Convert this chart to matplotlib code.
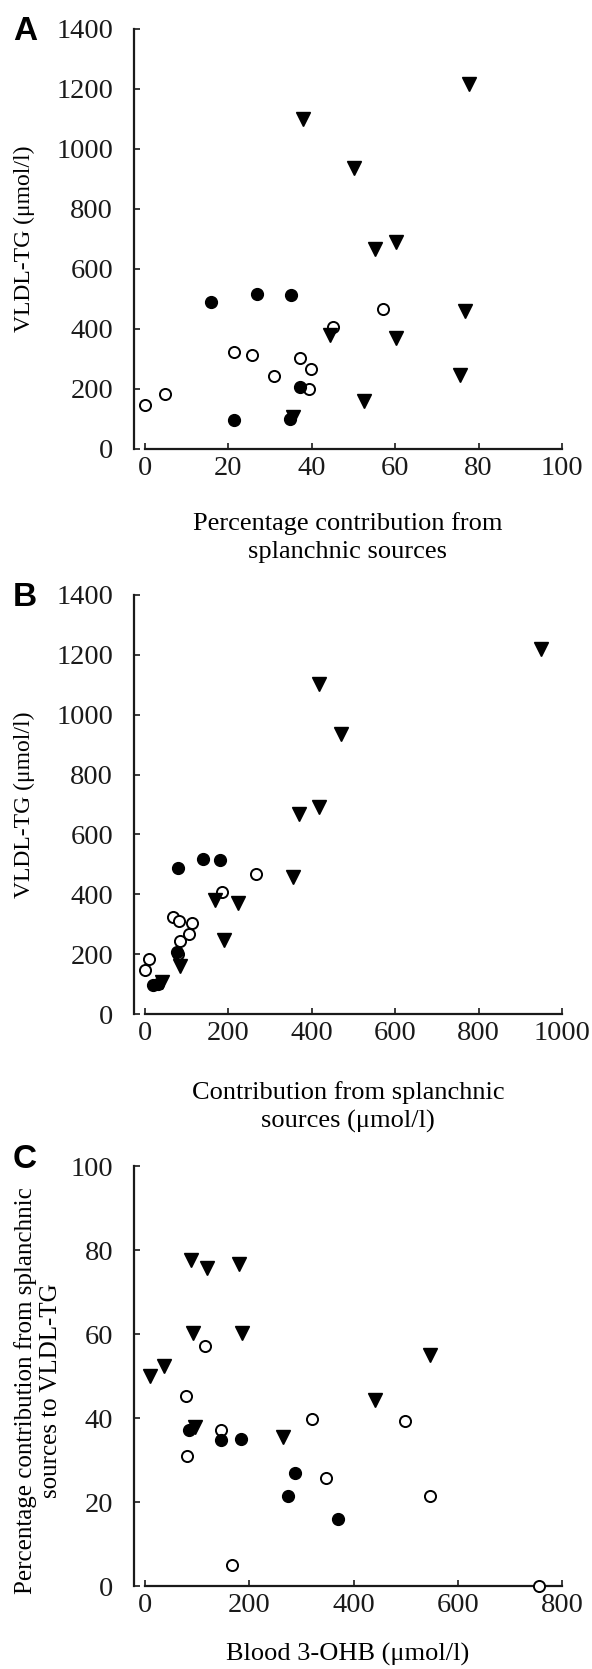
import matplotlib
matplotlib.use("Agg")
import matplotlib.pyplot as plt

# triangles (11 subjects)
tri_pct = [77.7, 37.9, 50.1, 55.1, 60.2, 76.7, 44.3, 60.2, 75.6, 52.4, 35.4]
tri_vldl = [1218, 1101, 936, 668, 690, 459, 381, 370, 248, 159, 107]
tri_contrib = [949, 417, 470, 370, 417, 354, 169, 224, 190, 84, 41]
tri_ohb = [88, 96, 9, 546, 93, 181, 441, 187, 118, 37, 265]

# filled circles (6 subjects)
fill_pct = [15.9, 26.9, 34.9, 37.2, 21.4, 34.7]
fill_vldl = [489, 517, 513, 208, 97, 100]
fill_contrib = [79, 139, 181, 76, 20, 32]
fill_ohb = [371, 288, 184, 85, 274, 145]

# open circles (10 subjects)
open_pct = [0, 4.9, 21.4, 25.6, 30.9, 37.2, 39.7, 39.3, 45.2, 57.1]
open_vldl = [147, 184, 323, 312, 244, 304, 266, 199, 408, 468]
open_contrib = [0, 10, 68, 81, 85, 112, 105, 79, 184, 267]
open_ohb = [755, 167, 546, 347, 81, 145, 320, 498, 79, 115]

yticks_tg = [0, 200, 400, 600, 800, 1000, 1200, 1400]
yticks_pct = [0, 20, 40, 60, 80, 100]

plt.rcParams['font.family'] = ['Liberation Serif', 'DejaVu Serif']
W, H = 592, 1669
fig = plt.figure(figsize=(W / 100, H / 100), dpi=100)

LABEL_FS = 19
X0, X1, SPINE = 145, 562, 134   # pixel positions of x=0, x=max and the left spine


def make_axes(top_px, bottom_px):
    return fig.add_axes([SPINE / W, 1 - bottom_px / H, (X1 - SPINE) / W,
                         (bottom_px - top_px) / H])


def style(ax, xmax, ymax, xticks, yticks):
    ax.set_xlim(-xmax * (X0 - SPINE) / (X1 - X0), xmax)
    ax.set_ylim(0, ymax)
    ax.spines['top'].set_visible(False)
    ax.spines['right'].set_visible(False)
    for s in ('left', 'bottom'):
        ax.spines[s].set_linewidth(1.6)
        ax.spines[s].set_color('#1a1a1a')
    ax.spines['bottom'].set_bounds(0, xmax)
    ax.set_xticks(xticks)
    ax.set_yticks(yticks)
    ax.tick_params(axis='both', direction='in', length=4, width=1.2,
                   color='#1a1a1a', labelsize=20.5, labelcolor='#1a1a1a')
    ax.tick_params(axis='x', pad=5)
    ax.tick_params(axis='y', pad=15)


def scatter(ax, xs_tri, ys_tri, xs_fill, ys_fill, xs_open, ys_open):
    ax.plot(xs_open, ys_open, 'o', ms=8, mfc='white', mec='black', mew=1.4,
            ls='none', clip_on=False, zorder=3)
    ax.plot(xs_fill, ys_fill, 'o', ms=8.5, color='black', ls='none',
            clip_on=False, zorder=4)
    ax.plot(xs_tri, ys_tri, 'v', ms=9.5, color='black', ls='none',
            clip_on=False, zorder=4)


def labels(ax, xlab, ylab, xlab_y, ylab_x, ylab_y, yfs, ysp=1.2):
    ax.set_xlabel(xlab, fontsize=LABEL_FS, linespacing=1.35)
    ax.xaxis.label.set_va('center')
    ax.xaxis.set_label_coords(0.5, xlab_y)
    ax.set_ylabel(ylab, fontsize=yfs, linespacing=ysp)
    ax.yaxis.label.set_va('center')
    ax.yaxis.set_label_coords(ylab_x, ylab_y)


# A
axA = make_axes(29, 449)
style(axA, 100, 1400, [0, 20, 40, 60, 80, 100], yticks_tg)
scatter(axA, tri_pct, tri_vldl, fill_pct, fill_vldl, open_pct, open_vldl)
labels(axA, 'Percentage contribution from\nsplanchnic sources', 'VLDL-TG (μmol/l)',
       -0.21, -0.255, 0.50, 17)

# B
axB = make_axes(595, 1014)
style(axB, 1000, 1400, [0, 200, 400, 600, 800, 1000], yticks_tg)
scatter(axB, tri_contrib, tri_vldl, fill_contrib, fill_vldl, open_contrib, open_vldl)
labels(axB, 'Contribution from splanchnic\nsources (μmol/l)', 'VLDL-TG (μmol/l)',
       -0.222, -0.255, 0.50, 17)

# C
axC = make_axes(1166, 1586)
style(axC, 800, 100, [0, 200, 400, 600, 800], yticks_pct)
scatter(axC, tri_ohb, tri_pct, fill_ohb, fill_pct, open_ohb, open_pct)
labels(axC, 'Blood 3-OHB (μmol/l)',
       'Percentage contribution from splanchnic\nsources to VLDL-TG',
       -0.162, -0.224, 0.464, 18, ysp=1.2)

# panel letters
for letter, ypx in (('A', 31), ('B', 597), ('C', 1159)):
    fig.text(25 / W, 1 - ypx / H, letter, fontsize=24, fontweight='bold',
             family=['Liberation Sans', 'DejaVu Sans'], ha='center', va='center')

fig.savefig('out.png', dpi=100)
